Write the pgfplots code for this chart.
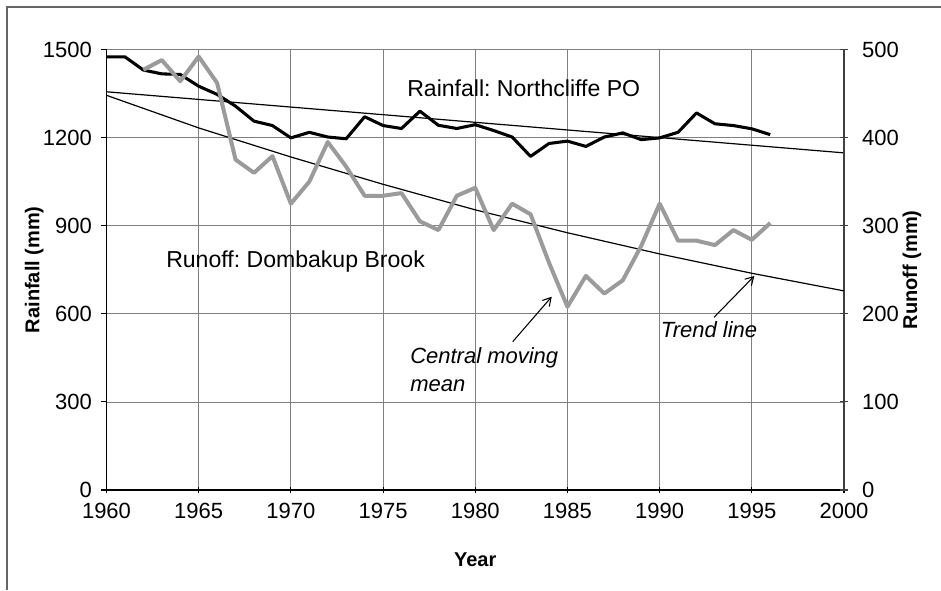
\documentclass[border=0pt]{standalone}
\usepackage{fontspec}
\setmainfont{Liberation Sans}
\usepackage{pgfplots}
\pgfplotsset{compat=1.18}
\usetikzlibrary{arrows.meta}
\definecolor{runoffgray}{RGB}{155,155,155}
\definecolor{gridgray}{RGB}{128,128,128}
\frenchspacing
\begin{document}
\begin{tikzpicture}
\path[use as bounding box] (0,0) rectangle (705.75pt,442.5pt);
\begin{axis}[
  at={(79.875pt,75pt)}, anchor=south west,
  scale only axis, width=553.125pt, height=330.375pt,
  xmin=1960, xmax=2000, ymin=0, ymax=1500,
  xtick={1960,1965,...,2000}, ytick={0,300,...,1500},
  axis x line*=bottom, axis y line*=left,
  xmajorgrids, ymajorgrids,
  grid style={gridgray, line width=0.6pt},
  axis line style={black, line width=1.1pt},
  tick style={black, line width=0.8pt},
  major tick length=4.5pt,
  ytick align=outside, xtick align=center,
  /pgf/number format/1000 sep={},
  /pgf/number format/assume math mode=true,
  ticklabel style={font=\fontsize{16.5}{19}\selectfont},
  yticklabel style={xshift=-3pt},
  xticklabel style={yshift=-4pt},
  xlabel={\textbf{Year}},
  xlabel style={at={(rel axis cs:0.5,-0.159)}, anchor=center, font=\fontsize{15}{18}\selectfont},
  ylabel={\textbf{Rainfall (mm)}},
  ylabel style={at={(rel axis cs:-0.098,0.5)}, anchor=center, font=\fontsize{15}{18}\selectfont},
  clip=false,
]
% rainfall trend line
\addplot[black, line width=0.9pt] coordinates {
 (1960,1356) (1965,1330) (1970,1304) (1975,1278) (1980,1252)
 (1985,1226) (1990,1200) (1995,1174) (2000,1148)};
% rainfall (Northcliffe PO)
\addplot[black, line width=2.3pt, line join=round] coordinates {
 (1960,1475) (1961,1475) (1962,1430) (1963,1417) (1964,1415)
 (1965,1375) (1966,1347) (1967,1307) (1968,1256) (1969,1241)
 (1970,1199) (1971,1218) (1972,1202) (1973,1196) (1974,1271)
 (1975,1241) (1976,1231) (1977,1290) (1978,1242) (1979,1231)
 (1980,1244) (1981,1224) (1982,1202) (1983,1136) (1984,1180)
 (1985,1188) (1986,1170) (1987,1202) (1988,1216) (1989,1193)
 (1990,1199) (1991,1218) (1992,1284) (1993,1247) (1994,1241)
 (1995,1230) (1996,1210)};
\end{axis}
\begin{axis}[
  at={(79.875pt,75pt)}, anchor=south west,
  scale only axis, width=553.125pt, height=330.375pt,
  xmin=1960, xmax=2000, ymin=0, ymax=500,
  ytick={0,100,...,500},
  axis y line*=right, axis x line=none,
  axis line style={black!75, line width=1.3pt},
  tick style={black!75, line width=0.8pt},
  major tick length=6pt,
  ytick align=center,
  /pgf/number format/assume math mode=true,
  ticklabel style={font=\fontsize{16.5}{19}\selectfont},
  yticklabel style={xshift=7pt},
  ylabel={\textbf{Runoff (mm)}},
  ylabel style={at={(rel axis cs:1.092,0.5)}, anchor=center, font=\fontsize{15}{18}\selectfont},
  clip=false,
]
% runoff trend line
\addplot[black, line width=0.9pt] coordinates {
 (1960,448) (1965,411) (1970,378) (1975,347) (1980,318)
 (1985,292) (1990,268) (1995,246) (2000,226)};
% runoff central moving mean (Dombakup Brook)
\addplot[runoffgray, line width=3pt, line join=round] coordinates {
 (1962,477) (1963,488) (1964,464) (1965,492) (1966,462)
 (1967,375) (1968,360) (1969,379) (1970,325) (1971,350)
 (1972,395) (1973,367) (1974,334) (1975,334) (1976,337)
 (1977,305) (1978,295) (1979,334) (1980,343) (1981,295)
 (1982,325) (1983,313) (1984,258) (1985,208) (1986,243)
 (1987,223) (1988,238) (1989,277) (1990,325) (1991,283)
 (1992,283) (1993,278) (1994,295) (1995,284) (1996,303)};
\end{axis}
\begin{scope}[x=0.75pt, y=-0.75pt, shift={(0pt,442.5pt)}]
\draw[black!60, line width=1.2pt] (7,590) -- (7,7) -- (941,7);
\node[anchor=base west, inner sep=0pt, font=\fontsize{17.3}{20}\selectfont] at (407,97) {Rainfall: Northcliffe PO};
\node[anchor=base west, inner sep=0pt, font=\fontsize{17.3}{20}\selectfont] at (166,267) {Runoff: Dombakup Brook};
\node[anchor=base west, inner sep=0pt, font=\fontsize{16.5}{20}\itshape] at (410,363) {Central moving};
\node[anchor=base west, inner sep=0pt, font=\fontsize{16.5}{20}\itshape] at (410,391.7) {mean};
\node[anchor=base west, inner sep=0pt, font=\fontsize{16.5}{20}\itshape] at (660.7,337.3) {Trend line};
\draw[-{Straight Barb[length=6pt,width=7pt]}, line width=0.8pt] (512.7,341.7) -- (551.7,296.7);
\draw[-{Straight Barb[length=6pt,width=7pt]}, line width=0.8pt] (714,317.3) -- (754.3,276);
\end{scope}
\end{tikzpicture}
\end{document}
